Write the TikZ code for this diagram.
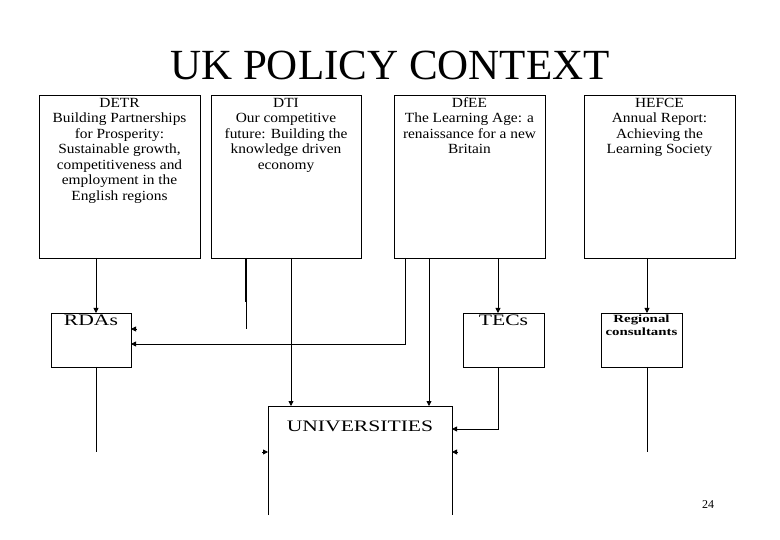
\documentclass[tikz,border=0pt]{standalone}
\usepackage{fontspec}
\setmainfont{Liberation Serif}
\newfontfamily\widefont[FakeStretch=1.1]{Liberation Serif}
\newfontfamily\widerfont[FakeStretch=1.35]{Liberation Serif}
\usetikzlibrary{arrows.meta}
\begin{document}
\begin{tikzpicture}[x=1pt,y=-1pt,
  box/.style={draw,line width=0.8pt},
  txt/.style={align=center,font=\widefont\fontsize{14}{15.5}\selectfont,anchor=north,inner sep=1pt},
  big/.style={txt,font=\widerfont\fontsize{16}{16}\selectfont},
  ln/.style={line width=0.8pt},
  arr/.style={ln,-{Triangle[length=5pt,width=5pt]}}]
\useasboundingbox (0,0) rectangle (780,540);
\node (title) at (390,65) {\fontsize{43}{46}\selectfont UK POLICY CONTEXT};
\draw[box] (39,95) rectangle (200,258); \coordinate (detr) at (39,95);
\draw[box] (211,95) rectangle (361,258); \coordinate (dti) at (211,95);
\draw[box] (394,95) rectangle (545,258); \coordinate (dfee) at (394,95);
\draw[box] (584,95) rectangle (735,258); \coordinate (hefce) at (584,95);
\node[txt] (t1) at (119.5,95) {\strut DETR\\Building Partnerships\\for Prosperity:\\Sustainable growth,\\competitiveness and\\employment in the\\English regions};
\node[txt] (t2) at (286,95) {\strut DTI\\Our competitive\\future: Building the\\knowledge driven\\economy};
\node[txt] (t3) at (469.5,95) {\strut DfEE\\The Learning Age: a\\renaissance for a new\\Britain};
\node[txt] (t4) at (659.5,95) {\strut HEFCE\\Annual Report:\\Achieving the\\Learning Society};
\draw[box] (51,313) rectangle (131,367);
\node[big] (rdas) at (91,314) {RDAs};
\draw[box] (463,313) rectangle (544,367);
\node[big] (tecs) at (503.5,314) {TECs};
\draw[box] (601,313) rectangle (682,367);
\node[txt,font=\widerfont\bfseries\fontsize{11}{13}\selectfont] (reg) at (641.5,314) {Regional\\consultants};
\draw[ln] (268,515) -- (268,406) -- (452,406) -- (452,515);
\node[big] (univ) at (360,420) {UNIVERSITIES};
\node (pg) at (708,505) {\fontsize{12}{12}\selectfont 24};
\draw[arr] (96,258) -- (96,313);
\draw[ln] (96,367) -- (96,452);
\draw[line width=1.6pt] (246,258) -- (246,302);
\draw[ln] (246,302) -- (246,329);
\draw[arr] (291,258) -- (291,406);
\draw[arr] (405,258) -- (405,344) -- (131,344);
\draw[arr] (429,258) -- (429,406);
\draw[arr] (498,258) -- (498,313);
\draw[arr] (498,367) -- (498,429) -- (452,429);
\draw[arr] (647,258) -- (647,313);
\draw[ln] (647,367) -- (647,452);
\draw[arr] (137,329) -- (131,329);
\draw[arr] (262,452) -- (268,452);
\draw[arr] (458,452) -- (452,452);
\end{tikzpicture}
\end{document}
